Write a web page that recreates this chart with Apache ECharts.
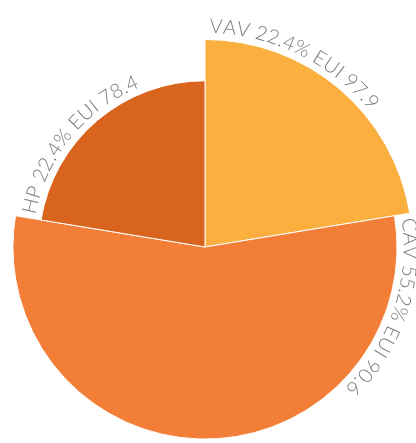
<!DOCTYPE html>
<html>
<head>
<meta charset="utf-8">
<script src="https://cdn.jsdelivr.net/npm/echarts@6/dist/echarts.min.js"></script>
<style>
  html, body { margin: 0; padding: 0; background: #fff; }
  #chart { width: 416px; height: 443px; }
</style>
</head>
<body>
<div id="chart"></div>
<script>
// --- data ---
const categories = ['VAV', 'CAV', 'HP'];
const shares = [22.4, 55.2, 22.4];   // % -> angle
const euiValues = [97.9, 90.6, 78.4]; // EUI -> radius
const colors = ['#fbaf3f', '#f27e38', '#d8641d'];

const labelFont = '300 20px Lato, "Open Sans", sans-serif';
const measureCtx = document.createElement('canvas').getContext('2d');
measureCtx.font = labelFont;

// cumulative start of each slice (in % of the circle)
let acc = 0;
const seriesData = categories.map((name, i) => {
    const row = [acc, shares[i], euiValues[i], i];
    acc += shares[i];
    return row;
});

function angleAt(api, cx, cy, r, a) {
    const p = api.coord([r, a]);
    return Math.atan2(p[1] - cy, p[0] - cx);
}

function renderSlice(params, api) {
    const cs = params.coordSys;
    const cx = cs.cx, cy = cs.cy;
    const i = api.value(3);
    const start = api.value(0);
    const share = api.value(1);
    const eui = api.value(2);

    const pr = api.coord([eui, start]);
    const r = Math.hypot(pr[0] - cx, pr[1] - cy);
    const a0 = angleAt(api, cx, cy, eui, start);
    let a1 = angleAt(api, cx, cy, eui, start + share);
    while (a1 <= a0) a1 += Math.PI * 2;

    const children = [{
        type: 'sector',
        shape: { cx: cx, cy: cy, r0: 0, r: r, startAngle: a0, endAngle: a1, clockwise: true },
        style: { fill: colors[i], stroke: '#fff', lineWidth: 1 }
    }];

    // curved label along the outer arc
    const text = categories[i] + ' ' + share.toFixed(1) + '% EUI ' + eui.toFixed(1);
    const rt = r + 3;
    let s = 4;
    for (const ch of text) {
        const w = measureCtx.measureText(ch).width;
        const a = a0 + (s + w / 2) / rt;
        s += w;
        if (ch === ' ') continue;
        children.push({
            type: 'text',
            x: cx + rt * Math.cos(a),
            y: cy + rt * Math.sin(a),
            rotation: -(a + Math.PI / 2),
            style: {
                text: ch,
                font: labelFont,
                fill: '#7a7a7a',
                align: 'center',
                verticalAlign: 'bottom'
            }
        });
    }
    return { type: 'group', children: children };
}

const chart = echarts.init(document.getElementById('chart'));
chart.setOption({
    animation: false,
    polar: { center: [205, 247], radius: 212 },
    angleAxis: { type: 'value', min: 0, max: 100, startAngle: 90, clockwise: true, show: false },
    radiusAxis: { type: 'value', min: 0, max: 100, show: false },
    series: [{
        type: 'custom',
        coordinateSystem: 'polar',
        renderItem: renderSlice,
        data: seriesData
    }]
});
</script>
</body>
</html>
